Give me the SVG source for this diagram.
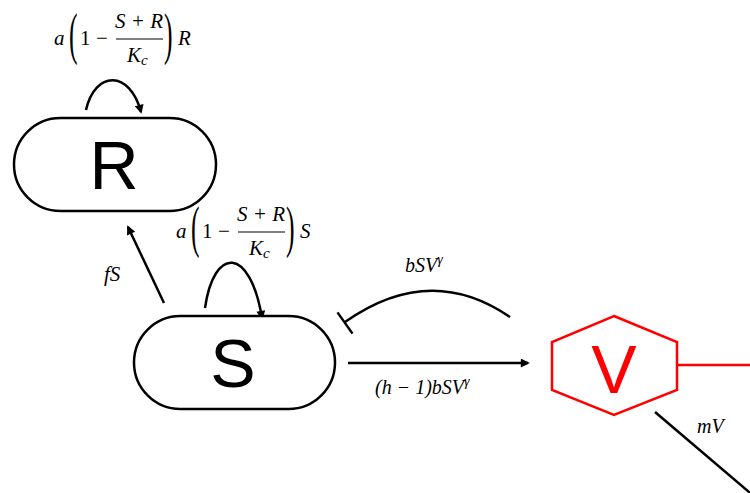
<svg xmlns="http://www.w3.org/2000/svg" width="750" height="493" viewBox="0 0 750 493">
<defs>
<style>
.node{fill:#fff;stroke:#000;stroke-width:2.5}
.big{font-family:"Liberation Sans",Arial,sans-serif;font-size:68px;text-anchor:middle}
.ln{fill:none;stroke:#000;stroke-width:2.5}
.m{font-family:"Liberation Serif","Times New Roman",serif;font-style:italic;font-size:21px;fill:#000}
.l{font-family:"Liberation Serif","Times New Roman",serif;font-style:italic;font-size:20px;fill:#000}
.up{font-style:normal}
.par{font-family:"Liberation Serif","Times New Roman",serif;font-size:57px;fill:#000}
</style>
<marker id="ah" viewBox="0 0 10 10" refX="8" refY="5" markerWidth="11" markerHeight="9" markerUnits="userSpaceOnUse" orient="auto">
<path d="M0,0 L10,5 L0,10 z" fill="#000"/>
</marker>
<g id="logistic">
<text class="m" x="54" y="45">a</text>
<text class="par" transform="translate(69,53) scale(0.45,1)">(</text>
<text class="m up" x="80" y="45">1</text>
<text class="m up" x="96" y="45">−</text>
<line x1="116" y1="39" x2="163" y2="39" stroke="#000" stroke-width="1.2"/>
<text class="m" x="139" y="28" text-anchor="middle">S + R</text>
<text class="m" x="127" y="62">K<tspan font-size="15" dy="3">c</tspan></text>
<text class="par" transform="translate(164,53) scale(0.45,1)">)</text>
</g>
</defs>

<g id="connectors">
<path class="ln" d="M86,110 C95,70 130,70 141,112" marker-end="url(#ah)"/>
<path class="ln" d="M205,308 C214,246 250,246 262,318" marker-end="url(#ah)"/>
<line class="ln" x1="164" y1="303" x2="128" y2="227" marker-end="url(#ah)"/>
<path class="ln" d="M510,317 Q430,262 345,322"/>
<line class="ln" x1="337.5" y1="312.4" x2="352.5" y2="333.6"/>
<line class="ln" x1="348" y1="363" x2="528" y2="363" marker-end="url(#ah)"/>
<line class="ln" x1="655" y1="412" x2="762" y2="503"/>
<line x1="677" y1="365" x2="752" y2="365" stroke="#ff0000" stroke-width="2.5"/>
</g>

<g id="labels">
<g id="label-R-growth">
<use href="#logistic"/>
<text class="m" x="178" y="45">R</text>
</g>
<g id="label-S-growth" transform="translate(122,193)">
<use href="#logistic"/>
<text class="m" x="178" y="45">S</text>
</g>
<text class="m" x="104" y="281">fS</text>
<text class="l" x="405" y="272">bSV<tspan font-size="14" dy="-8">γ</tspan></text>
<text class="l" x="375" y="394">(h<tspan dx="5">−</tspan><tspan dx="5">1)bSV</tspan><tspan font-size="14" dy="-8">γ</tspan></text>
<text class="l" x="697" y="433">mV</text>
</g>

<g id="node-R">
<rect class="node" x="14" y="118" width="202" height="93" rx="46.5"/>
<text class="big" x="114" y="189">R</text>
</g>
<g id="node-S">
<rect class="node" x="134" y="316" width="201" height="93" rx="46.5"/>
<text class="big" x="233" y="387">S</text>
</g>
<g id="node-V">
<polygon points="614,316 677,342 677,390 614,415 552,390 552,342" fill="#fff" stroke="#ff0000" stroke-width="2.5"/>
<text class="big" x="614" y="393" fill="#ff0000">V</text>
</g>
</svg>
